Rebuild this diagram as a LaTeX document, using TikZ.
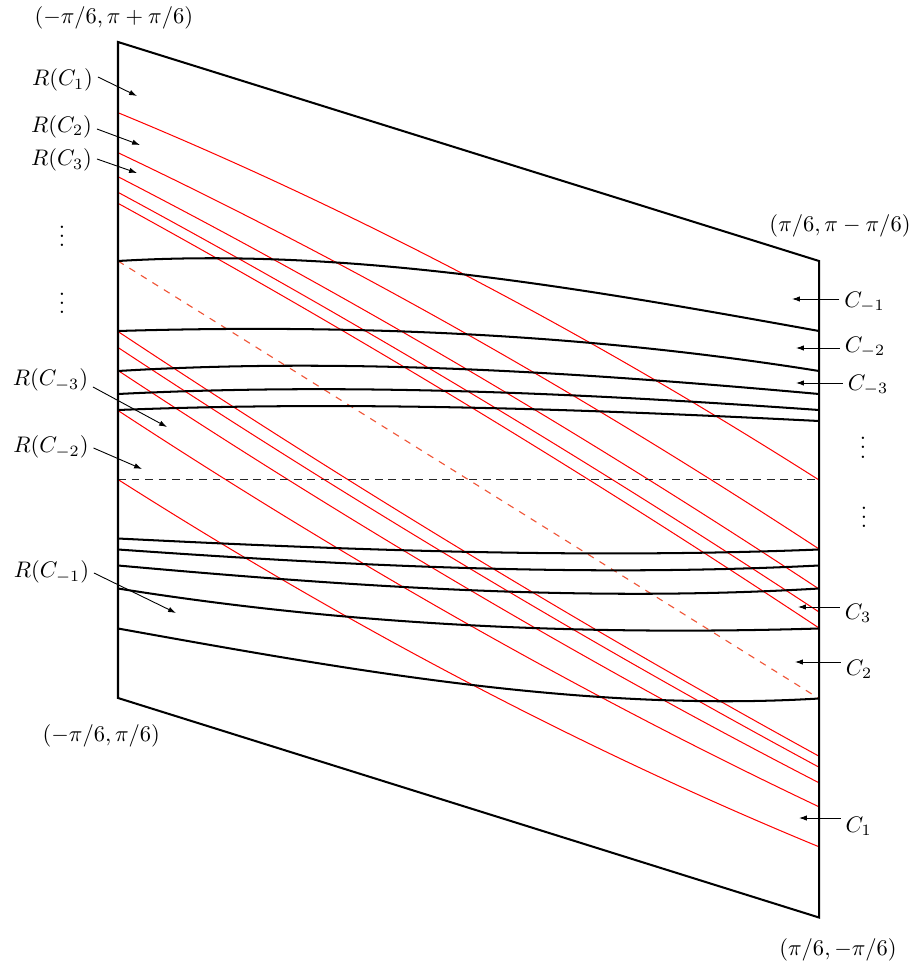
\documentclass[tikz,border=0pt]{standalone}
\usetikzlibrary{arrows.meta}
\newcommand\mytopgroup{%
  \draw[redc] (118,112.7) .. controls (351.67,209.0) and (585.33,331.4) .. (819,480);
  \draw[redc] (118,152.7) .. controls (351.67,263.6) and (585.33,395.9) .. (819,549);
  \draw[redc] (118,176.7) .. controls (351.67,297.3) and (585.33,435.0) .. (819,589);
  \draw[redc] (118,192.3) .. controls (351.67,318.4) and (585.33,458.2) .. (819,612);
  \draw[redc] (118,203.3) .. controls (351.67,331.6) and (585.33,473.1) .. (819,628);
}
\newcommand\mytopcurves{%
  \draw[curveC] (118,261) .. controls (352,247) and (585,288.9) .. (819,331);
  \draw[curveC] (118,331) .. controls (351.67,324) and (585.33,333.6) .. (819,371);
  \draw[curveC] (118,371) .. controls (351.67,357) and (585.33,373) .. (819,394);
  \draw[curveC] (118,394) .. controls (351.67,382.3) and (585.33,393.6) .. (819,410);
  \draw[curveC] (118,410) .. controls (351.67,400.7) and (585.33,409.3) .. (819,421);
}
\begin{document}
\begin{tikzpicture}[x=0.444pt,y=-0.444pt,
  bnd/.style={line width=0.9pt, line join=miter},
  curveC/.style={line width=0.9pt},
  redc/.style={red, line width=0.45pt},
  reddash/.style={color={rgb,255:red,240;green,85;blue,55}, line width=0.5pt, dash pattern=on 3pt off 3pt},
  middash/.style={black!85, line width=0.45pt, dash pattern=on 3.5pt off 2.5pt},
  lbl/.style={inner sep=2pt},
  dotsnode/.style={inner sep=0pt, anchor=base},
  ptr/.style={-{Latex[length=3.5pt,width=2.4pt]}, line width=0.4pt}]
\useasboundingbox (0,0) rectangle (915,967);

% red curves
\mytopgroup
\begin{scope}[rotate around={180:(468.5,479.75)}]
  \mytopgroup
\end{scope}
\draw[reddash] (118,261) -- (819,698.5);

% black middle dashed line
\draw[middash] (118,479.75) -- (819,479.75);

% black curves
\mytopcurves
\begin{scope}[rotate around={180:(468.5,479.75)}]
  \mytopcurves
\end{scope}

% boundary
\coordinate (TL) at (118,42);
\coordinate (TR) at (819,261);
\coordinate (BR) at (819,917.5);
\coordinate (BL) at (118,698);
\draw[bnd] (TL) -- (TR) -- (BR) -- (BL) -- cycle;

% corner labels
\node[lbl] (tl) at (113.8,18) {$(-\pi/6,\pi+\pi/6)$};
\node[lbl] (tr) at (840,225.5) {$(\pi/6,\pi-\pi/6)$};
\node[lbl] (bl) at (101.3,736.3) {$(-\pi/6,\pi/6)$};
\node[lbl] (br) at (838,950) {$(\pi/6,-\pi/6)$};

% left labels
\node[lbl] (rc1) at (62.5,80.3) {$R(C_1)$};
\node[lbl] (rc2) at (61.5,126.7) {$R(C_2)$};
\node[lbl] (rc3) at (61.5,160.3) {$R(C_3)$};
\node[lbl] (rcm3) at (50.5,380) {$R(C_{-3})$};
\node[lbl] (rcm2) at (51,447) {$R(C_{-2})$};
\node[lbl] (rcm1) at (51.5,572) {$R(C_{-1})$};

\coordinate (s1) at (99,77);
\coordinate (s2) at (104,129);
\coordinate (s3) at (103,159);
\coordinate (sm3) at (103,387);
\coordinate (sm2) at (103,448);
\coordinate (sm1) at (107,573);
\coordinate (e1) at (137,96);
\coordinate (e2) at (140,145);
\coordinate (e3) at (137,173);
\coordinate (em3) at (167,427);
\coordinate (em2) at (142,469);
\coordinate (em1) at (176,613);
\draw[ptr] (rc1.east |- s1) -- (e1);
\draw[ptr] (rc2.east |- s2) -- (e2);
\draw[ptr] (rc3.east |- s3) -- (e3);
\draw[ptr] (rcm3.east |- sm3) -- (em3);
\draw[ptr] (rcm2.east |- sm2) -- (em2);
\draw[ptr] (rcm1.east |- sm1) -- (em1);

% right labels
\node[lbl] (cm1) at (864.5,302) {$C_{-1}$};
\node[lbl] (cm2) at (865,347) {$C_{-2}$};
\node[lbl] (cm3) at (868,385) {$C_{-3}$};
\node[lbl] (c3) at (858,613) {$C_3$};
\node[lbl] (c2) at (859,669) {$C_2$};
\node[lbl] (c1) at (858.7,826) {$C_1$};

\coordinate (f1) at (792,299);
\coordinate (f2) at (796,348);
\coordinate (f3) at (796,383);
\coordinate (g3) at (798,607);
\coordinate (g2) at (795,662);
\coordinate (g1) at (799,818);
\draw[ptr] (cm1.west |- f1) -- (f1);
\draw[ptr] (cm2.west |- f2) -- (f2);
\draw[ptr] (cm3.west |- f3) -- (f3);
\draw[ptr] (c3.west |- g3) -- (g3);
\draw[ptr] (c2.west |- g2) -- (g2);
\draw[ptr] (c1.west |- g1) -- (g1);

% vertical dots
\node[dotsnode] (vl1) at (62,246.5) {$\vdots$};
\node[dotsnode] (vl2) at (62,314) {$\vdots$};
\node[dotsnode] (vr1) at (863,458) {$\vdots$};
\node[dotsnode] (vr2) at (864,527.5) {$\vdots$};
\end{tikzpicture}
\end{document}
